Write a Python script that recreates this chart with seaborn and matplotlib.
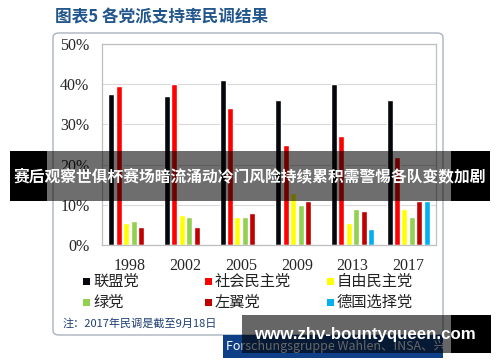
import numpy as np
import pandas as pd
import seaborn as sns
import matplotlib
matplotlib.use("Agg")
import matplotlib.pyplot as plt
from matplotlib.patches import Rectangle, FancyBboxPatch

# ---- data (percent) ----
years = ["1998", "2002", "2005", "2009", "2013", "2017"]
parties = ["联盟党", "社会民主党", "自由民主党", "绿党", "左翼党", "德国选择党"]
union = [37.5, 37, 41, 36, 40, 36]
spd = [39.5, 40, 34, 25, 27, 22]
fdp = [5.5, 7.5, 7, 13, 5.5, 9]
greens = [6, 7, 7, 10, 9, 7]
left_party = [4.5, 4.5, 8, 11, 8.5, 11]
afd = [np.nan, np.nan, np.nan, np.nan, 4, 11]
colors = ["#05070d", "#ff0000", "#ffff00", "#92d050", "#c00000", "#00b0f0"]
y_ticks = [0, 10, 20, 30, 40, 50]

series = [union, spd, fdp, greens, left_party, afd]
rows = []
for party, vals in zip(parties, series):
    for yr, v in zip(years, vals):
        rows.append({"year": yr, "party": party, "value": v})
df = pd.DataFrame(rows).dropna()

sns.set_theme(style="white")
cjk = ["Noto Sans CJK SC", "DejaVu Sans"]
plt.rcParams["font.family"] = cjk

W, H = 500, 362
fig = plt.figure(figsize=(W / 100, H / 100), dpi=100)


def fx(x):
    return x / W


def fy(y):
    return 1 - y / H


ax = fig.add_axes([fx(102), fy(245), fx(436) - fx(102), fy(44) - fy(245)])
sns.barplot(data=df, x="year", y="value", hue="party", order=years,
            hue_order=parties, palette=colors, saturation=1, width=0.8,
            gap=0.18, legend=False, ax=ax, err_kws={"linewidth": 0})

ax.set_ylim(0, 50)
ax.set_xlim(-0.5, 5.5)
ax.set_yticks(y_ticks)
ax.set_yticklabels([f"{v}%" for v in y_ticks], family="Liberation Serif", fontsize=11.5)
ax.set_xticks(range(len(years)))
ax.set_xticklabels(years, family="Liberation Serif", fontsize=11.5)
ax.set_xticks(np.arange(-0.5, 6, 1), minor=True)
ax.tick_params(axis="x", which="major", length=0, pad=9)
ax.tick_params(axis="x", which="minor", length=6, color="#bfbfbf", width=0.8)
ax.tick_params(axis="y", length=0, pad=9)
ax.set_xlabel("")
ax.set_ylabel("")
ax.yaxis.grid(True, color="#d9d9d9", linewidth=0.8)
ax.set_axisbelow(True)
for s in ax.spines.values():
    s.set_color("#bfbfbf")
    s.set_linewidth(0.9)

# outer rounded frame
fig.patches.append(FancyBboxPatch((fx(53), fy(335)), fx(443) - fx(53), fy(33) - fy(335),
                                  boxstyle="round,pad=0,rounding_size=0.012",
                                  transform=fig.transFigure, fill=False,
                                  edgecolor="#a9b4be", linewidth=1.0, zorder=0))

# title
fig.text(fx(55), fy(17), "图表5 各党派支持率民调结果", fontsize=12, weight="bold",
         color="#21558c", va="center", ha="left")

# legend (manual 2 x 3 grid)
leg_x = [83, 205, 327]
leg_y = [281, 302]
for i, (p, c) in enumerate(zip(parties, colors)):
    x0 = leg_x[i % 3]
    y0 = leg_y[i // 3]
    fig.patches.append(Rectangle((fx(x0), fy(y0 + 3.5)), fx(7), 7 / H,
                                 transform=fig.transFigure, facecolor=c,
                                 edgecolor="none"))
    fig.text(fx(x0 + 10), fy(y0), p, fontsize=11, color="#222222",
             va="center", ha="left")

# note
fig.text(fx(63), fy(323), "注：2017年民调是截至9月18日", fontsize=8, color="#1f3f73",
         va="center", ha="left")

# source box
fig.patches.append(Rectangle((fx(223), fy(358)), fx(443) - fx(223), fy(335) - fy(358),
                             transform=fig.transFigure, facecolor="#0f3f86",
                             edgecolor="none"))
fig.text(fx(226), fy(346), "Forschungsgruppe Wahlen、INSA、兴业研究", fontsize=9,
         color="white", va="center", ha="left")

# overlay banner in the middle
fig.patches.append(Rectangle((fx(10), fy(201)), fx(37), 50 / H, transform=fig.transFigure,
                             facecolor="black", edgecolor="none", zorder=10))
fig.patches.append(Rectangle((fx(451), fy(201)), fx(39), 50 / H, transform=fig.transFigure,
                             facecolor="black", edgecolor="none", zorder=10))
fig.patches.append(Rectangle((fx(47), fy(201)), fx(404), 50 / H, transform=fig.transFigure,
                             facecolor="black", alpha=0.57, edgecolor="none", zorder=10))
fig.text(fx(250), fy(176), "赛后观察世俱杯赛场暗流涌动冷门风险持续累积需警惕各队变数加剧",
         fontsize=11.3, weight="bold", color="white", ha="center", va="center", zorder=11)

# overlay watermark at the bottom
fig.patches.append(Rectangle((fx(242), fy(353)), fx(209), 38 / H, transform=fig.transFigure,
                             facecolor="black", alpha=0.6, edgecolor="none", zorder=10))
fig.patches.append(Rectangle((fx(451), fy(353)), fx(40), 38 / H, transform=fig.transFigure,
                             facecolor="black", edgecolor="none", zorder=10))
fig.text(fx(365), fy(335), "www.zhv-bountyqueen.com", fontsize=12.2, weight="bold",
         color="white", ha="center", va="center", family="Liberation Sans", zorder=11)

fig.savefig("out.png", dpi=100)
